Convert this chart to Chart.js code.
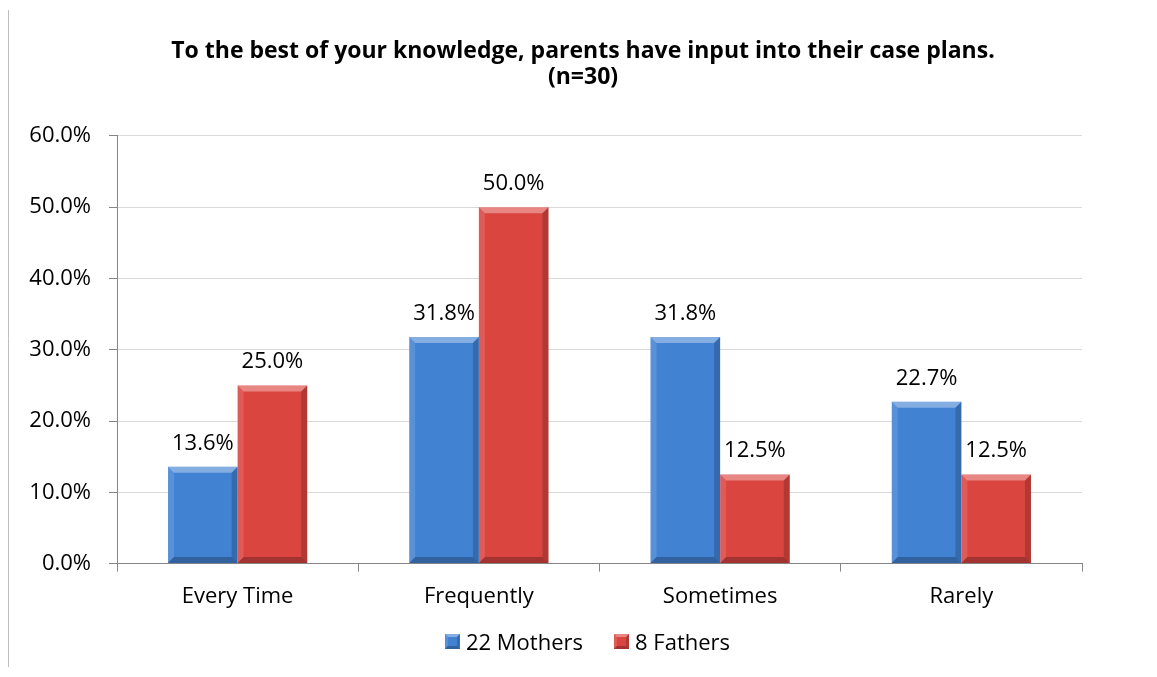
<!DOCTYPE html>
<html>
<head>
<meta charset="utf-8">
<script src="https://cdn.jsdelivr.net/npm/chart.js@4/dist/chart.umd.min.js"></script>
<style>
  body { margin: 0; background: #fff; }
</style>
</head>
<body>
<canvas id="myChart" width="1157" height="677"></canvas>
<script>
var categories = ['Every Time', 'Frequently', 'Sometimes', 'Rarely'];
var mothers = [13.6, 31.8, 31.8, 22.7];
var fathers = [25.0, 50.0, 12.5, 12.5];
var seriesNames = ['22 Mothers', '8 Fathers'];
var yTicks = [0, 10, 20, 30, 40, 50, 60];

var FONT = "'Open Sans', sans-serif";
var baseColors = ['#4282d3', '#da4540'];
var darkColors = ['#3570bb', '#b93631'];

// left frame line of the chart box
var framePlugin = {
  id: 'frame',
  beforeDraw: function(chart) {
    var c = chart.ctx;
    c.save();
    c.strokeStyle = '#bfbfbf';
    c.lineWidth = 1;
    c.beginPath();
    c.moveTo(8.5, 10);
    c.lineTo(8.5, 667);
    c.stroke();
    c.restore();
  }
};

// title sits a little right of the plot centre
var shiftPlugin = {
  id: 'shift',
  afterLayout: function(chart) {
    var t = chart.titleBlock;
    t.left += 32; t.right += 32;
  }
};

// bevelled edges on a rectangle
function bevel(c, l, t, r, b, d) {
  c.fillStyle = 'rgba(255,255,255,0.35)';
  c.beginPath(); c.moveTo(l, t); c.lineTo(r, t); c.lineTo(r - d, t + d); c.lineTo(l + d, t + d); c.fill();
  c.fillStyle = 'rgba(255,255,255,0.12)';
  c.beginPath(); c.moveTo(l, t); c.lineTo(l + d, t + d); c.lineTo(l + d, b - d); c.lineTo(l, b); c.fill();
  c.fillStyle = 'rgba(0,0,0,0.18)';
  c.beginPath(); c.moveTo(r, t); c.lineTo(r, b); c.lineTo(r - d, b - d); c.lineTo(r - d, t + d); c.fill();
  c.fillStyle = 'rgba(0,0,0,0.25)';
  c.beginPath(); c.moveTo(l, b); c.lineTo(r, b); c.lineTo(r - d, b - d); c.lineTo(l + d, b - d); c.fill();
}

var barStylePlugin = {
  id: 'barStyle',
  afterDatasetsDraw: function(chart) {
    var c = chart.ctx;
    c.save();
    chart.data.datasets.forEach(function(ds, i) {
      chart.getDatasetMeta(i).data.forEach(function(bar, j) {
        var l = bar.x - bar.width / 2, r = bar.x + bar.width / 2;
        bevel(c, l, bar.y, r, bar.base, 6);
        c.fillStyle = '#000';
        c.font = '22px ' + FONT;
        c.textAlign = 'center';
        c.textBaseline = 'alphabetic';
        c.fillText(ds.data[j].toFixed(1) + '%', bar.x, bar.y - 17);
      });
    });
    c.restore();
  }
};

// legend row under the axis: small bevelled squares with series names
var legendRowPlugin = {
  id: 'legendRow',
  afterDraw: function(chart) {
    var c = chart.ctx;
    var box = 15, gapText = 6, gapItem = 31, centerX = 587.5, baseY = 650;
    c.save();
    c.font = '22px ' + FONT;
    c.textBaseline = 'alphabetic';
    c.textAlign = 'left';
    var widths = chart.data.datasets.map(function(ds) { return c.measureText(ds.label).width; });
    var total = 0;
    widths.forEach(function(w, i) { total += box + gapText + w + (i ? gapItem : 0); });
    var x = centerX - total / 2;
    chart.data.datasets.forEach(function(ds, i) {
      var top = baseY - 16;
      c.fillStyle = baseColors[i];
      c.fillRect(x, top, box, box);
      bevel(c, x, top, x + box, top + box, 3);
      c.fillStyle = '#000';
      c.fillText(ds.label, x + box + gapText, baseY);
      x += box + gapText + widths[i] + gapItem;
    });
    c.restore();
  }
};

function sideShade(i) {
  return function(context) {
    var chart = context.chart;
    var bar = context.element;
    if (!chart.chartArea || !bar || bar.width === undefined) return baseColors[i];
    var g = chart.ctx.createLinearGradient(0, bar.y, 0, bar.base);
    g.addColorStop(0, baseColors[i]);
    g.addColorStop(1, darkColors[i]);
    return g;
  };
}

var ctx = document.getElementById('myChart').getContext('2d');
var chart = new Chart(ctx, {
  type: 'bar',
  data: {
    labels: categories,
    datasets: [{
      label: seriesNames[0],
      data: mothers,
      backgroundColor: sideShade(0),
      borderWidth: 0
    }, {
      label: seriesNames[1],
      data: fathers,
      backgroundColor: sideShade(1),
      borderWidth: 0
    }]
  },
  options: {
    responsive: false,
    animation: false,
    layout: { padding: { left: 20, right: 75, top: 38, bottom: 55 } },
    datasets: { bar: { categoryPercentage: 0.577, barPercentage: 1 } },
    plugins: {
      title: {
        display: true,
        text: ['To the best of your knowledge, parents have input into their case plans.', '(n=30)'],
        color: '#000',
        font: { family: FONT, size: 23, weight: 'bold', lineHeight: 1.15 },
        padding: { top: 0, bottom: 45 }
      },
      legend: { display: false },
      tooltip: { enabled: false }
    },
    scales: {
      x: {
        grid: { drawOnChartArea: false, tickLength: 8, color: '#868686' },
        border: { color: '#868686' },
        ticks: { color: '#000', font: { family: FONT, size: 22 }, padding: 12 }
      },
      y: {
        min: 0,
        max: 60,
        afterBuildTicks: function(scale) {
          scale.ticks = yTicks.map(function(v) { return { value: v }; });
        },
        afterFit: function(scale) { scale.width = 97; },
        grid: { color: '#d9d9d9', tickLength: 8, tickColor: '#868686' },
        border: { color: '#868686' },
        ticks: {
          color: '#000',
          font: { family: FONT, size: 22 },
          padding: 18,
          callback: function(v) { return v.toFixed(1) + '%'; }
        }
      }
    }
  },
  plugins: [framePlugin, shiftPlugin, barStylePlugin, legendRowPlugin]
});
</script>
</body>
</html>
